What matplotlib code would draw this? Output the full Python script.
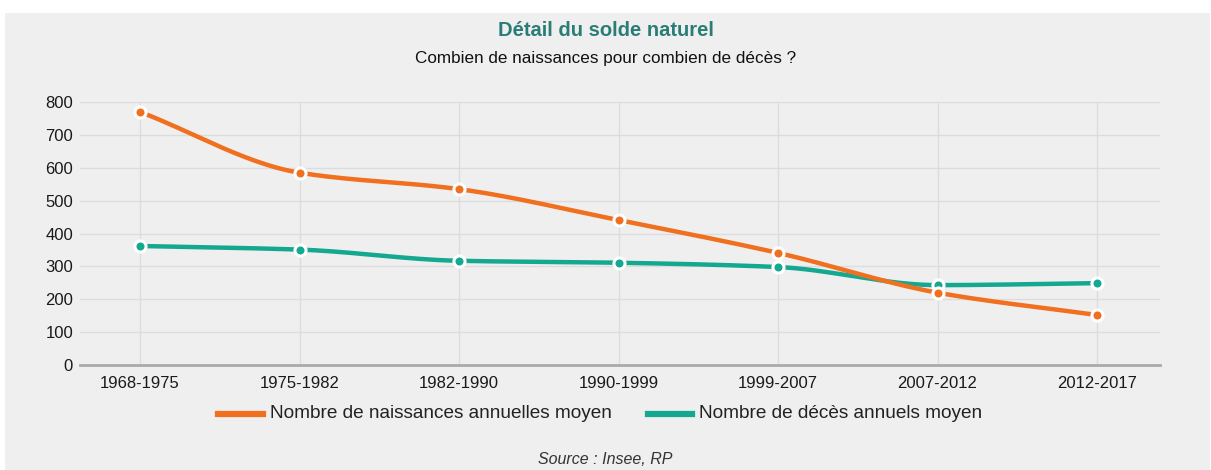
import numpy as np
import matplotlib
matplotlib.use("Agg")
import matplotlib.pyplot as plt
from matplotlib.patches import Rectangle

periodes = ["1968-1975", "1975-1982", "1982-1990", "1990-1999", "1999-2007", "2007-2012", "2012-2017"]
naissances = [770, 585, 535, 441, 341, 220, 152]
deces = [362, 351, 317, 311, 298, 243, 249]

orange = "#f07020"
teal = "#13a88f"
fond = "#efefef"

plt.rcParams['font.family'] = ['Liberation Sans', 'DejaVu Sans']


def courbe_lisse(x, y, n=30):
    # monotone cubic (Fritsch-Carlson) only for drawing the smoothed line
    x = np.asarray(x, float)
    y = np.asarray(y, float)
    h = np.diff(x)
    d = np.diff(y) / h
    m = np.zeros_like(y)
    m[0], m[-1] = d[0], d[-1]
    for i in range(1, len(y) - 1):
        if d[i - 1] * d[i] <= 0:
            m[i] = 0
        else:
            m[i] = 2 / (1 / d[i - 1] + 1 / d[i])
    xs, ys = [], []
    for i in range(len(x) - 1):
        t = np.linspace(0, 1, n)
        h00 = 2 * t**3 - 3 * t**2 + 1
        h10 = t**3 - 2 * t**2 + t
        h01 = -2 * t**3 + 3 * t**2
        h11 = t**3 - t**2
        xs.extend(x[i] + t * h[i])
        ys.extend(h00 * y[i] + h10 * h[i] * m[i] + h01 * y[i + 1] + h11 * h[i] * m[i + 1])
    return np.array(xs), np.array(ys)


fig = plt.figure(figsize=(12.11, 4.70), dpi=100, facecolor="white")
fig.patches.append(Rectangle((5 / 1211, 0), 1205 / 1211, 457 / 470, transform=fig.transFigure,
                             facecolor=fond, edgecolor="none", zorder=-5))

ax = fig.add_axes([80 / 1211, 1 - 365 / 470, 1080 / 1211, 263 / 470])
ax.set_facecolor(fond)
x = np.arange(len(periodes))

for serie, coul, z in [(deces, teal, 3), (naissances, orange, 4)]:
    xs, ys = courbe_lisse(x, serie)
    ax.plot(xs, ys, color=coul, lw=3.2, zorder=z, solid_capstyle="round")
    ax.plot(x, serie, "o", color=coul, ms=8, mec="white", mew=2.2, zorder=z + 2)

ax.set_xlim(-60 / 159.5, 6 + 63 / 159.5)
ax.set_ylim(0, 800)
ax.set_yticks(range(0, 801, 100))
ax.set_xticks(x)
ax.set_xticklabels(periodes)
ax.grid(True, color="#dcdcdc", lw=1)
ax.set_axisbelow(True)
for s in ["top", "right", "left"]:
    ax.spines[s].set_visible(False)
ax.spines["bottom"].set_color("#aaaaaa")
ax.spines["bottom"].set_linewidth(2)
ax.tick_params(axis="both", length=0, labelsize=12, colors="#1a1a1a")
ax.tick_params(axis="x", pad=8)
ax.tick_params(axis="y", pad=5)

fig.text(0.5, 1 - 30 / 470, "Détail du solde naturel", ha="center", va="center",
         fontsize=14.5, fontweight="bold", color="#2a7d77")
fig.text(0.5, 1 - 59 / 470, "Combien de naissances pour combien de décès ?", ha="center",
         va="center", fontsize=12.3, color="#111111")

leg_y = 1 - 414 / 470
fig.lines.append(plt.Line2D([218 / 1211, 263 / 1211], [leg_y, leg_y], transform=fig.transFigure,
                            color=orange, lw=4.5))
fig.text(270 / 1211, leg_y, "Nombre de naissances annuelles moyen", va="center",
         fontsize=13.7, color="#222222")
fig.lines.append(plt.Line2D([648 / 1211, 692 / 1211], [leg_y, leg_y], transform=fig.transFigure,
                            color=teal, lw=4.5))
fig.text(699 / 1211, leg_y, "Nombre de décès annuels moyen", va="center",
         fontsize=13.7, color="#222222")

fig.text(0.5, 1 - 460 / 470, "Source : Insee, RP", ha="center", va="center",
         fontsize=11.5, style="italic", color="#333333")

fig.savefig("out.png", dpi=100, facecolor="white")
